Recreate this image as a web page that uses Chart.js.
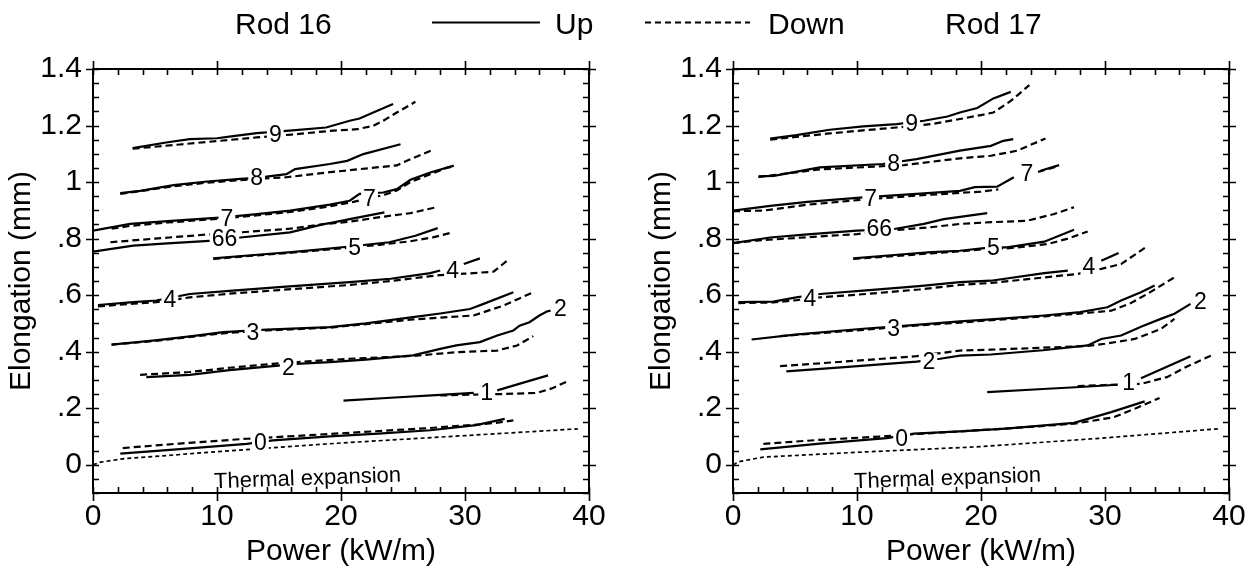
<!DOCTYPE html>
<html>
<head>
<meta charset="utf-8">
<script src="https://cdn.jsdelivr.net/npm/chart.js@4.4.1/dist/chart.umd.min.js"></script>
<style>
  html, body { margin:0; padding:0; background:#fff; }
  body { width:1254px; height:574px; position:relative; overflow:hidden; font-family:"Liberation Sans", Arial, sans-serif; }
  .cv { position:absolute; top:0; }
  .lg { position:absolute; font-size:30px; line-height:30px; top:9px; color:#000; white-space:nowrap; }
</style>
</head>
<body>
<canvas id="c16" class="cv" style="left:0" width="640" height="574"></canvas>
<canvas id="c17" class="cv" style="left:640px" width="614" height="574"></canvas>
<div class="lg" style="left:235px">Rod 16</div>
<svg style="position:absolute;left:430px;top:14px" width="330" height="20">
  <line x1="2" y1="8.5" x2="110" y2="8.5" stroke="#000" stroke-width="2.2"/>
  <line x1="215" y1="8.5" x2="320" y2="8.5" stroke="#000" stroke-width="2.2" stroke-dasharray="6,4"/>
</svg>
<div class="lg" style="left:555px">Up</div>
<div class="lg" style="left:768px">Down</div>
<div class="lg" style="left:945px">Rod 17</div>
<script>
// ---------- axis ticks ----------
const xTickValues = [0, 10, 20, 30, 40];
const yTickValues = [0, 0.2, 0.4, 0.6, 0.8, 1.0, 1.2, 1.4];
const yTickLabels = ['0', '.2', '.4', '.6', '.8', '1', '1.2', '1.4'];

// ---------- Rod 16 (power kW/m, elongation mm) ----------
const r16Therm = [[0,0],[0.6,0.009],[2.4,0.021],[10,0.046],[20,0.077],[30,0.103],[39.1,0.127]];
const r16Up0 = [[2.2,0.039],[7,0.055],[12.4,0.074],[14.5,0.086],[19.1,0.1],[23,0.11],[27.2,0.122],[30.9,0.14],[33.2,0.162]];
const r16Dn0 = [[2.4,0.059],[7,0.075],[12.4,0.092],[14.5,0.097],[20.7,0.113],[27.2,0.13],[31,0.142],[32.5,0.148],[33.9,0.157]];
const r16Up1 = [[20.2,0.227],[24,0.237],[28,0.247],[30.7,0.254]];
const r16Up1b = [[32.6,0.263],[34.5,0.288],[36.7,0.316]];
const r16Dn1 = [[28,0.245],[30.7,0.248],[33,0.25],[35.8,0.254],[37,0.27],[38.2,0.294]];
const r16Up2 = [[4.3,0.31],[7.8,0.318],[11,0.335],[14.5,0.349],[16.4,0.357],[19.1,0.363],[22,0.372],[25.8,0.387],[28,0.41],[29.3,0.422],[31.2,0.434],[32.6,0.457],[33.9,0.475],[34.4,0.492],[35.2,0.504],[36,0.528],[36.6,0.542],[36.9,0.545]];
const r16Dn2 = [[3.8,0.318],[7.8,0.328],[11,0.343],[14.5,0.357],[17,0.365],[20.7,0.375],[25.8,0.385],[29.3,0.398],[32.6,0.404],[34.2,0.422],[35.5,0.455]];
const r16Up3 = [[1.5,0.425],[5,0.44],[8,0.455],[10.5,0.469],[14,0.478],[19.1,0.487],[22,0.5],[25.8,0.522],[28,0.535],[30.4,0.551],[31.5,0.569],[33.9,0.61]];
const r16Dn3 = [[1.5,0.425],[5,0.438],[10.5,0.465],[14,0.475],[19.1,0.485],[25.8,0.514],[30.7,0.528],[33.1,0.563],[35.6,0.612]];
const r16Up4 = [[0.4,0.565],[3.25,0.575],[5.1,0.581],[7.8,0.604],[11,0.615],[15,0.628],[20.7,0.646],[24,0.658],[27.2,0.678],[28,0.687]];
const r16Up4b = [[29.9,0.71],[31.2,0.73]];
const r16Dn4 = [[0.4,0.56],[3.25,0.57],[5.1,0.575],[7.8,0.592],[11,0.605],[15,0.618],[20.7,0.636],[24,0.65],[28,0.671],[30,0.676],[32.3,0.683],[33.4,0.722]];
const r16Up5 = [[9.7,0.73],[13,0.742],[16,0.752],[18.6,0.763],[20.7,0.772],[23.9,0.787],[26,0.81],[27.8,0.837]];
const r16Dn5 = [[9.7,0.728],[13,0.74],[16,0.75],[18.6,0.76],[20.7,0.768],[23.1,0.778],[25.5,0.79],[27.5,0.805],[28.8,0.82]];
const r16Up6 = [[0,0.754],[3.25,0.775],[6,0.783],[9.7,0.793],[11.9,0.804],[15.9,0.822],[18.6,0.851],[19.1,0.855],[20.7,0.869],[23.5,0.893]];
const r16Dn6 = [[1.4,0.787],[5,0.8],[9.7,0.816],[11.9,0.822],[15.9,0.835],[18.6,0.851],[20.7,0.86],[23.5,0.878],[25.6,0.89],[27.6,0.91]];
const r16Up7 = [[0,0.828],[3,0.852],[6,0.862],[10.5,0.875],[13,0.886],[15.9,0.899],[19.1,0.92],[20.7,0.934],[21.5,0.958],[23.4,0.963],[24.5,0.975],[25.6,1.008],[27.2,1.034],[29.1,1.058]];
const r16Dn7 = [[1.5,0.835],[3,0.845],[6,0.857],[10.5,0.871],[15.9,0.894],[19.1,0.914],[21,0.93],[22.5,0.945],[23.5,0.955],[24.5,0.97],[25.6,1.0],[27.2,1.028],[28.5,1.05],[29.1,1.055]];
const r16Up8 = [[2.2,0.961],[3.8,0.969],[6.5,0.989],[9.2,1.002],[11.9,1.011],[13.2,1.015],[15.6,1.028],[16.3,1.046],[19.1,1.064],[20.5,1.075],[21.8,1.099],[24.8,1.134]];
const r16Dn8 = [[2.2,0.958],[6.5,0.985],[9.2,0.998],[13.2,1.011],[15.6,1.017],[19.1,1.035],[24.5,1.059],[25.6,1.081],[27.4,1.114]];
const r16Up9 = [[3.2,1.12],[5.9,1.14],[7.8,1.152],[10,1.155],[11,1.161],[13.2,1.173],[15.6,1.181],[18.8,1.193],[20.7,1.217],[21.5,1.225],[22.6,1.246],[24.2,1.276]];
const r16Dn9 = [[3.2,1.118],[7,1.133],[10,1.145],[13.2,1.158],[16,1.168],[19.1,1.181],[21.3,1.187],[22.6,1.199],[23.4,1.217],[24.5,1.246],[26,1.284]];
const r16LabelText = ['9','8','7','66','7','5','4','4','3','2','2','1','0'];
const r16LabelX = [14.7,13.2,10.8,10.6,22.3,21.1,6.2,29.0,12.9,15.75,37.7,31.75,13.5];
const r16LabelY = [1.166,1.017,0.872,0.799,0.94,0.769,0.583,0.687,0.466,0.345,0.551,0.254,0.078];

// ---------- Rod 17 ----------
const r17Therm = [[0,0],[0.6,0.012],[2.45,0.027],[10,0.044],[20,0.064],[30,0.095],[39.1,0.127]];
const r17Up0 = [[2.2,0.054],[7,0.075],[12.4,0.094],[14.6,0.11],[18.3,0.118],[22,0.128],[27.5,0.148],[30.5,0.186],[33.2,0.224]];
const r17Dn0 = [[2.45,0.074],[7,0.088],[12.4,0.101],[14.6,0.108],[18.3,0.118],[22,0.128],[27.5,0.145],[30.7,0.168],[32.5,0.2],[34.4,0.236]];
const r17Up1 = [[20.5,0.257],[25,0.268],[28,0.275],[31,0.283]];
const r17Up1b = [[32.9,0.306],[36.9,0.384]];
const r17Dn1 = [[27.8,0.278],[30,0.282],[32.9,0.286],[35,0.31],[36.5,0.345],[38.7,0.389]];
const r17Up2 = [[4.3,0.33],[9,0.345],[14.8,0.365],[16.7,0.375],[18.3,0.386],[20.8,0.39],[25,0.405],[28.6,0.422],[29.7,0.445],[31.3,0.457],[33,0.49],[34.5,0.516],[35.6,0.534],[36.9,0.569]];
const r17Dn2 = [[3.8,0.349],[9,0.365],[14.8,0.384],[18.3,0.404],[20.8,0.407],[25,0.414],[28.6,0.42],[30,0.428],[32.4,0.445],[34.5,0.48],[35.6,0.516]];
const r17Up3 = [[1.5,0.443],[5,0.46],[10.5,0.481],[14,0.492],[18.3,0.507],[20.8,0.514],[25.1,0.528],[28,0.54],[30.2,0.557],[31.3,0.581],[32.9,0.61],[34,0.634]];
const r17Dn3 = [[3.8,0.455],[10.5,0.477],[14,0.49],[18.3,0.503],[25.1,0.525],[27.8,0.534],[30.5,0.545],[32,0.57],[33.4,0.604],[35.6,0.663]];
const r17Up4 = [[0.43,0.575],[3.25,0.577],[5.1,0.592],[7,0.604],[11,0.618],[15,0.632],[18.3,0.646],[20.8,0.651],[25.1,0.678],[27,0.687]];
const r17Up4b = [[29.7,0.722],[31.1,0.749]];
const r17Dn4 = [[0.43,0.572],[3.25,0.574],[5.1,0.582],[7,0.592],[11,0.605],[15,0.62],[18.3,0.636],[20.8,0.643],[27.8,0.675],[29.7,0.693],[31.3,0.71],[32.3,0.74],[33.3,0.77]];
const r17Up5 = [[9.7,0.73],[13,0.742],[16,0.752],[18.3,0.757],[20.8,0.769],[22.1,0.769],[25.1,0.789],[27.5,0.831]];
const r17Dn5 = [[9.7,0.728],[13,0.738],[16,0.748],[18.3,0.755],[20.8,0.765],[22.1,0.765],[25.4,0.781],[27,0.8],[28.6,0.825]];
const r17Up6 = [[0,0.784],[3,0.804],[6,0.815],[10,0.828],[13,0.834],[15.4,0.852],[17,0.869],[20.5,0.89]];
const r17Dn6 = [[0,0.784],[1.9,0.793],[6,0.805],[10,0.816],[13,0.83],[15.9,0.84],[18.3,0.852],[20.8,0.858],[23.7,0.863],[25.9,0.887],[27.5,0.911]];
const r17Up7 = [[0,0.899],[3,0.916],[6,0.93],[10.5,0.946],[14.8,0.958],[18.3,0.969],[19.5,0.982],[21.3,0.984],[22.65,1.017]];
const r17Up7b = [[24.8,1.04],[26.3,1.06]];
const r17Dn7 = [[0,0.897],[2.45,0.899],[6,0.92],[10.5,0.938],[14.8,0.952],[18.3,0.962],[20,0.966],[21.4,0.974]];
const r17Dn7b = [[24.6,1.036],[26.2,1.056]];
const r17Up8 = [[2.05,1.02],[3.3,1.022],[7,1.052],[12.1,1.064],[14.8,1.081],[18.3,1.111],[20.8,1.128],[21.8,1.146],[22.6,1.152]];
const r17Dn8 = [[2.05,1.018],[7,1.045],[13.8,1.06],[18.3,1.084],[20.8,1.093],[22.9,1.111],[25.2,1.154]];
const r17Up9 = [[3,1.154],[5.1,1.166],[7.8,1.185],[10.5,1.197],[13.2,1.205],[15.4,1.217],[17.3,1.232],[18.3,1.246],[19.7,1.262],[21,1.296],[22.4,1.319]];
const r17Dn9 = [[3,1.15],[5.1,1.16],[7.8,1.172],[10.5,1.183],[13.2,1.193],[16,1.205],[18.3,1.223],[20,1.237],[21,1.246],[22.4,1.287],[23.9,1.343]];
const r17LabelText = ['9','8','7','66','7','5','4','4','3','2','2','1','0'];
const r17LabelX = [14.4,12.95,11.1,11.8,23.7,21.0,6.2,28.7,12.95,15.8,37.7,31.9,13.6];
const r17LabelY = [1.208,1.064,0.94,0.836,1.028,0.769,0.587,0.702,0.481,0.363,0.577,0.289,0.092];

const thermalText = 'Thermal expansion';
const thermalTextX = 17.3;
const thermalTextY = -0.05;

// ---------- helpers ----------
const FONT = '"Liberation Sans", Arial, Helvetica, sans-serif';
Chart.defaults.font.family = FONT;
Chart.defaults.color = '#000';

const toPts = arr => arr.map(p => ({x: p[0], y: p[1]}));
const solid = arr => ({data: toPts(arr), borderColor:'#000', borderWidth:2.2, pointRadius:0, fill:false, tension:0});
const dashed = arr => ({data: toPts(arr), borderColor:'#000', borderWidth:2.2, borderDash:[7,4], pointRadius:0, fill:false, tension:0});
const dotted = arr => ({data: toPts(arr), borderColor:'#000', borderWidth:1.7, borderDash:[4,3], pointRadius:0, fill:false, tension:0});

const framePlugin = {
  id: 'frame',
  afterDatasetsDraw(chart, args, opts) {
    const {ctx, chartArea: a, scales: {x, y}} = chart;
    ctx.save();
    // curve labels
    ctx.font = '23px ' + FONT;
    ctx.textAlign = 'center';
    ctx.textBaseline = 'middle';
    opts.labelText.forEach((t, i) => {
      const px = x.getPixelForValue(opts.labelX[i]);
      const py = y.getPixelForValue(opts.labelY[i]);
      const w = ctx.measureText(t).width;
      ctx.fillStyle = '#fff';
      ctx.fillRect(px - w/2 - 2, py - 9, w + 4, 18);
      ctx.fillStyle = '#000';
      ctx.fillText(t, px, py + 1);
    });
    // thermal expansion annotation
    ctx.save();
    ctx.translate(x.getPixelForValue(opts.thermX), y.getPixelForValue(opts.thermY));
    ctx.rotate(-2 * Math.PI / 180);
    ctx.font = '22px ' + FONT;
    ctx.fillStyle = '#000';
    ctx.fillText(opts.thermText, 0, 0);
    ctx.restore();
    // frame
    ctx.strokeStyle = '#000';
    ctx.lineWidth = 2;
    ctx.strokeRect(a.left, a.top, a.right - a.left, a.bottom - a.top);
    ctx.lineWidth = 1.6;
    ctx.beginPath();
    // x ticks
    for (let v = x.min; v <= x.max + 1e-9; v += 2) {
      const px = Math.round(x.getPixelForValue(v)) + 0.5;
      const major = Math.abs(v % 10) < 1e-9;
      ctx.moveTo(px, a.bottom + (major ? 8 : 0)); ctx.lineTo(px, a.bottom - 6);
      ctx.moveTo(px, a.top - (major ? 8 : 0)); ctx.lineTo(px, a.top + 6);
    }
    // y ticks
    for (let k = 0; k <= 30; k++) {
      const v = y.min + k * 0.05;
      const py = Math.round(y.getPixelForValue(v)) + 0.5;
      const major = yTickValues.some(t => Math.abs(t - v) < 1e-6);
      ctx.moveTo(a.left - (major ? 7 : 0), py); ctx.lineTo(a.left + 6, py);
      ctx.moveTo(a.right + (major ? 7 : 0), py); ctx.lineTo(a.right - 6, py);
    }
    ctx.stroke();
    ctx.restore();
  }
};

function makeChart(id, padRight, datasets, lt, lx, ly) {
  return new Chart(document.getElementById(id), {
    type: 'line',
    data: { datasets },
    options: {
      responsive: false,
      devicePixelRatio: 1,
      animation: false,
      events: [],
      layout: { padding: { top: 69, right: padRight, left: 0, bottom: 0 } },
      plugins: {
        legend: { display: false },
        tooltip: { enabled: false },
        frame: { labelText: lt, labelX: lx, labelY: ly, thermText: thermalText, thermX: thermalTextX, thermY: thermalTextY }
      },
      scales: {
        x: {
          type: 'linear', min: 0, max: 40,
          afterBuildTicks: s => { s.ticks = xTickValues.map(v => ({value: v})); },
          afterFit: s => { s.height = 81; },
          ticks: { font: { size: 30 }, color: '#000', padding: 6, maxRotation: 0, autoSkip: false },
          grid: { display: false, drawTicks: false },
          border: { display: false },
          title: { display: true, text: 'Power (kW/m)', font: { size: 30 }, color: '#000', padding: { top: 0, bottom: 4 } }
        },
        y: {
          type: 'linear', min: -0.1, max: 1.4,
          afterBuildTicks: s => { s.ticks = yTickValues.map(v => ({value: v})); },
          afterFit: s => { s.width = 93; },
          ticks: { font: { size: 30 }, color: '#000', padding: 11, autoSkip: false,
                   callback: (v, i) => yTickLabels[i] },
          grid: { display: false, drawTicks: false },
          border: { display: false },
          title: { display: true, text: 'Elongation (mm)', font: { size: 30 }, color: '#000', padding: { top: 4, bottom: 0 } }
        }
      }
    },
    plugins: [framePlugin]
  });
}

makeChart('c16', 51, [
  dotted(r16Therm),
  solid(r16Up0), dashed(r16Dn0),
  solid(r16Up1), solid(r16Up1b), dashed(r16Dn1),
  solid(r16Up2), dashed(r16Dn2),
  solid(r16Up3), dashed(r16Dn3),
  solid(r16Up4), solid(r16Up4b), dashed(r16Dn4),
  solid(r16Up5), dashed(r16Dn5),
  solid(r16Up6), dashed(r16Dn6),
  solid(r16Up7), dashed(r16Dn7),
  solid(r16Up8), dashed(r16Dn8),
  solid(r16Up9), dashed(r16Dn9)
], r16LabelText, r16LabelX, r16LabelY);

makeChart('c17', 25, [
  dotted(r17Therm),
  solid(r17Up0), dashed(r17Dn0),
  solid(r17Up1), solid(r17Up1b), dashed(r17Dn1),
  solid(r17Up2), dashed(r17Dn2),
  solid(r17Up3), dashed(r17Dn3),
  solid(r17Up4), solid(r17Up4b), dashed(r17Dn4),
  solid(r17Up5), dashed(r17Dn5),
  solid(r17Up6), dashed(r17Dn6),
  solid(r17Up7), solid(r17Up7b), dashed(r17Dn7), dashed(r17Dn7b),
  solid(r17Up8), dashed(r17Dn8),
  solid(r17Up9), dashed(r17Dn9)
], r17LabelText, r17LabelX, r17LabelY);
</script>
</body>
</html>
